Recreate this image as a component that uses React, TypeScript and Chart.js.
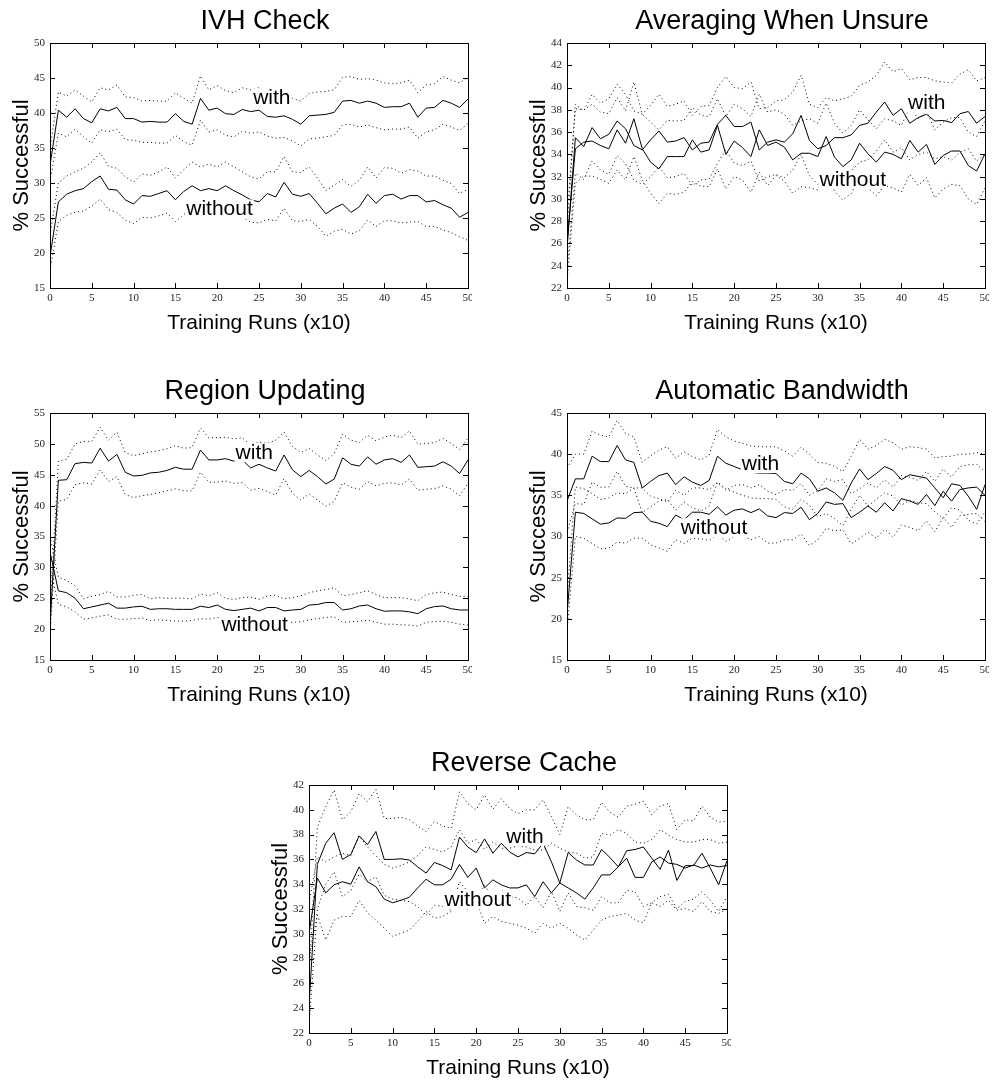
import React, { useEffect, useRef } from "react";
import { Chart, registerables } from "chart.js";

Chart.register(...registerables);
Chart.defaults.font.family = "'Liberation Sans', Arial, sans-serif";

// x categories: training runs (x10)
const RUNS: number[] = [
  0, 1, 2, 3, 4, 5, 6, 7, 8, 9, 10, 11, 12, 13, 14, 15, 16, 17, 18, 19, 20, 21, 22, 23, 24, 25,
  26, 27, 28, 29, 30, 31, 32, 33, 34, 35, 36, 37, 38, 39, 40, 41, 42, 43, 44, 45, 46, 47, 48, 49, 50,
];

const X_TITLE = "Training Runs (x10)";
const Y_TITLE = "% Successful";

// ---------- IVH Check ----------
const ivhWith = [32.5, 40.4, 39.4, 40.6, 39.2, 38.6, 40.6, 40.3, 40.8, 39.2, 39.2, 38.7, 38.8, 38.7, 38.7, 39.9, 38.8, 38.4, 42.1, 40.4, 40.7, 39.9, 39.8, 40.5, 40.2, 40.4, 39.5, 39.4, 39.6, 39.1, 38.4, 39.6, 39.7, 39.8, 40.1, 41.7, 41.8, 41.4, 41.7, 41.4, 40.8, 40.9, 40.9, 41.4, 39.4, 40.7, 40.8, 41.8, 41.4, 40.8, 42.0];
const ivhWithUp = [34.8, 43.0, 42.4, 43.3, 42.4, 41.6, 43.6, 43.3, 44.0, 42.3, 42.2, 41.7, 41.8, 41.7, 41.7, 42.9, 42.1, 41.4, 45.3, 43.3, 43.9, 43.2, 42.9, 43.6, 43.3, 43.6, 43.0, 42.5, 42.3, 42.1, 41.7, 42.8, 43.0, 43.1, 43.3, 45.1, 45.2, 44.8, 44.9, 44.7, 44.3, 44.2, 44.3, 44.7, 42.9, 44.0, 44.2, 45.2, 44.7, 44.3, 45.1];
const ivhWithLo = [30.2, 37.1, 36.6, 37.7, 36.6, 35.7, 37.6, 37.3, 37.7, 36.2, 36.1, 35.8, 35.8, 35.7, 35.7, 36.8, 35.9, 35.4, 39.0, 37.3, 37.6, 36.8, 36.6, 37.4, 37.1, 37.3, 36.7, 36.4, 36.5, 36.0, 35.3, 36.3, 36.4, 36.6, 36.8, 38.3, 38.4, 38.0, 38.3, 37.9, 37.6, 37.7, 37.7, 38.0, 36.4, 37.3, 37.6, 38.4, 38.0, 37.5, 38.5];
const ivhWo = [19.5, 27.3, 28.4, 28.9, 29.2, 30.2, 31.0, 29.1, 29.0, 27.6, 27.0, 28.2, 28.1, 28.5, 28.9, 27.6, 28.8, 29.6, 28.9, 29.2, 28.9, 29.6, 28.9, 28.3, 27.6, 27.3, 28.5, 28.0, 30.1, 28.4, 28.1, 28.5, 27.1, 25.6, 26.4, 27.0, 25.8, 26.6, 28.4, 27.1, 28.2, 28.4, 27.7, 28.2, 28.2, 27.3, 27.5, 26.9, 26.4, 25.1, 25.8];
const ivhWoUp = [22.5, 30.0, 31.0, 31.6, 32.1, 33.0, 34.3, 32.4, 32.1, 30.9, 30.1, 31.3, 31.1, 31.6, 32.3, 30.7, 31.9, 33.0, 32.3, 32.7, 32.3, 33.0, 32.3, 31.6, 30.9, 30.6, 31.6, 31.6, 33.8, 31.6, 31.5, 32.3, 30.7, 28.9, 29.7, 30.5, 29.5, 30.4, 32.3, 30.7, 32.2, 32.1, 31.4, 31.9, 31.7, 31.0, 31.0, 30.4, 29.9, 28.5, 29.1];
const ivhWoLo = [17.5, 24.5, 25.4, 25.8, 26.0, 26.7, 27.7, 26.2, 25.8, 24.7, 24.2, 25.1, 25.0, 25.3, 25.7, 24.5, 25.5, 26.3, 25.7, 25.9, 25.7, 26.3, 25.7, 25.1, 24.4, 24.3, 24.8, 24.6, 26.4, 24.6, 24.5, 24.8, 23.8, 22.4, 23.1, 23.4, 22.7, 23.2, 24.7, 23.8, 24.6, 24.6, 24.3, 24.4, 24.5, 23.8, 23.8, 23.3, 22.9, 22.3, 21.8];

// ---------- Averaging When Unsure ----------
const avgWith = [25.5, 35.5, 34.7, 36.4, 35.4, 35.8, 37.0, 36.3, 34.8, 34.4, 35.3, 36.1, 35.1, 35.2, 35.5, 34.4, 35.0, 35.1, 36.7, 37.5, 36.5, 36.5, 36.9, 34.4, 35.1, 35.3, 35.1, 35.85, 37.5, 35.25, 34.5, 34.8, 35.5, 35.5, 35.75, 36.6, 36.8, 37.8, 38.7, 37.5, 38.1, 36.8, 37.3, 37.6, 37.0, 37.05, 36.85, 37.65, 37.85, 36.8, 37.4];
const avgWithUp = [27.0, 38.5, 37.9, 39.4, 38.6, 39.0, 40.3, 39.4, 37.9, 37.6, 38.4, 39.4, 38.3, 38.5, 38.8, 37.5, 38.3, 38.4, 40.0, 41.0, 40.0, 39.9, 40.5, 38.1, 38.2, 38.8, 38.9, 39.6, 41.1, 38.5, 38.2, 39.1, 38.8, 39.0, 39.2, 40.2, 40.5, 41.1, 42.3, 41.4, 41.7, 40.7, 40.9, 40.9, 40.6, 40.5, 40.4, 41.2, 41.6, 40.6, 40.9];
const avgWithLo = [23.5, 32.3, 31.75, 33.4, 32.6, 32.2, 33.9, 33.2, 31.7, 31.3, 32.0, 32.9, 31.9, 32.0, 32.3, 31.2, 31.7, 31.8, 33.2, 34.4, 33.2, 33.0, 33.4, 31.6, 32.0, 32.2, 31.9, 32.6, 34.0, 32.1, 31.3, 31.7, 32.3, 32.1, 32.5, 33.3, 33.5, 34.3, 35.3, 34.2, 34.6, 33.5, 34.0, 34.2, 33.6, 33.8, 33.5, 34.2, 34.5, 33.4, 34.0];
const avgWo = [26.0, 34.5, 35.1, 35.2, 34.8, 34.5, 36.2, 35.0, 37.2, 34.5, 33.3, 32.7, 33.8, 33.8, 33.8, 35.3, 34.2, 34.4, 36.6, 34.0, 35.2, 34.6, 33.8, 36.2, 34.8, 35.1, 34.65, 33.5, 34.1, 34.1, 33.8, 35.6, 33.75, 32.9, 33.5, 35.0, 34.05, 33.3, 34.2, 34.0, 33.6, 35.25, 34.2, 34.9, 33.1, 33.9, 34.3, 34.3, 33.0, 32.5, 34.05];
const avgWoUp = [28.5, 38.1, 38.0, 38.5, 37.8, 37.65, 39.1, 37.9, 40.5, 37.6, 36.9, 36.2, 37.05, 37.0, 37.05, 38.2, 37.5, 37.4, 39.0, 37.4, 38.5, 38.1, 37.4, 39.4, 37.8, 38.0, 37.6, 36.6, 37.0, 37.2, 36.8, 38.6, 36.8, 35.9, 36.6, 38.0, 37.1, 36.3, 37.2, 37.0, 36.6, 38.2, 37.2, 37.9, 36.2, 36.9, 37.3, 37.3, 36.0, 35.6, 37.0];
const avgWoLo = [22.5, 31.4, 32.05, 32.05, 31.75, 31.4, 32.6, 31.7, 33.8, 31.7, 30.5, 29.6, 30.5, 30.4, 30.6, 31.55, 31.15, 31.1, 32.7, 30.9, 32.0, 31.7, 30.6, 32.4, 31.2, 32.1, 31.6, 30.5, 31.1, 31.0, 30.8, 32.6, 30.7, 29.9, 30.5, 32.0, 31.0, 30.3, 31.2, 31.0, 30.6, 32.2, 31.2, 31.9, 30.1, 30.9, 31.3, 31.2, 30.0, 29.5, 31.0];

// ---------- Region Updating ----------
const regWith = [20.5, 44.1, 44.2, 46.8, 47.0, 46.9, 49.3, 47.2, 48.3, 45.4, 44.8, 44.9, 45.3, 45.4, 45.7, 46.2, 45.9, 45.9, 49.0, 47.4, 47.4, 47.6, 47.2, 47.4, 46.1, 46.7, 46.1, 45.6, 48.2, 45.8, 44.7, 45.7, 44.7, 43.5, 44.3, 47.75, 46.7, 46.4, 47.9, 46.7, 47.4, 47.6, 47.0, 48.2, 46.2, 46.3, 46.4, 47.1, 46.4, 45.2, 47.4];
const regWithUp = [22.5, 47.2, 47.5, 50.0, 50.4, 50.4, 52.7, 50.6, 51.9, 48.6, 48.1, 48.4, 48.7, 48.9, 49.2, 49.7, 49.3, 49.4, 52.6, 51.0, 51.0, 51.1, 50.8, 51.0, 49.8, 50.3, 50.06, 50.6, 51.9, 49.6, 48.6, 49.25, 48.2, 47.3, 48.45, 51.6, 50.6, 50.2, 51.4, 50.5, 51.1, 51.4, 51.0, 52.1, 49.95, 50.06, 50.2, 50.9, 50.06, 49.1, 50.9];
const regWithLo = [19.0, 40.7, 41.0, 43.4, 43.7, 43.5, 45.8, 43.9, 44.7, 41.8, 41.3, 41.6, 41.8, 42.1, 42.4, 42.7, 42.4, 42.4, 45.4, 43.8, 43.8, 44.0, 43.6, 43.7, 42.5, 42.8, 42.3, 41.7, 44.4, 42.0, 40.9, 41.9, 40.9, 39.9, 40.7, 43.7, 43.0, 42.65, 43.9, 43.2, 43.6, 43.7, 43.35, 44.3, 42.5, 42.65, 42.75, 43.2, 42.65, 41.6, 43.6];
const regWo = [32.5, 26.2, 25.9, 25.0, 23.3, 23.6, 23.9, 24.2, 23.4, 23.4, 23.6, 23.7, 23.2, 23.3, 23.3, 23.2, 23.2, 23.2, 23.7, 23.5, 23.9, 23.2, 23.0, 23.2, 23.4, 22.95, 23.5, 23.5, 22.95, 23.1, 23.2, 23.9, 24.0, 24.3, 24.3, 23.1, 23.3, 23.75, 23.9, 23.3, 22.9, 22.95, 22.95, 22.8, 22.5, 23.3, 23.65, 23.75, 23.3, 23.1, 23.1];
const regWoUp = [35.0, 28.4, 27.9, 27.0, 24.9, 25.3, 25.6, 26.1, 25.2, 25.2, 25.5, 25.6, 24.9, 25.1, 25.0, 25.0, 25.0, 24.9, 25.7, 25.4, 25.9, 25.0, 24.8, 25.1, 25.2, 24.8, 25.4, 25.5, 24.9, 25.1, 25.4, 25.9, 26.2, 26.4, 26.7, 25.4, 25.6, 25.9, 26.2, 25.6, 25.1, 25.1, 25.1, 24.9, 24.6, 25.6, 25.9, 26.0, 25.6, 25.3, 25.3];
const regWoLo = [30.0, 24.0, 23.6, 22.8, 21.6, 21.8, 22.1, 22.3, 21.6, 21.6, 21.7, 21.8, 21.4, 21.5, 21.4, 21.3, 21.3, 21.4, 21.7, 21.6, 21.9, 21.3, 21.2, 21.3, 21.5, 20.8, 21.1, 21.2, 21.0, 21.1, 21.2, 21.5, 21.7, 21.9, 22.0, 21.1, 21.2, 21.3, 21.45, 21.1, 20.8, 20.8, 20.7, 20.65, 20.5, 21.1, 21.2, 21.3, 21.1, 20.8, 20.65];

// ---------- Automatic Bandwidth ----------
const bwWith = [34.3, 37.0, 37.0, 39.75, 39.1, 39.1, 41.05, 39.3, 39.0, 35.9, 36.7, 37.4, 37.7, 36.3, 37.25, 36.6, 36.2, 36.8, 39.75, 38.9, 38.5, 38.1, 37.8, 37.7, 37.7, 37.65, 36.7, 36.4, 37.7, 37.0, 35.5, 35.9, 35.3, 34.4, 36.5, 38.2, 36.9, 37.65, 38.5, 38.05, 36.9, 37.5, 37.3, 37.1, 35.9, 34.7, 36.4, 36.2, 34.9, 33.3, 36.3];
const bwWithUp = [38.3, 40.0, 40.0, 42.8, 42.3, 42.1, 44.1, 42.5, 42.1, 39.0, 39.8, 40.5, 40.9, 39.5, 40.3, 39.7, 39.3, 39.9, 43.0, 42.1, 41.6, 41.3, 41.0, 40.9, 40.9, 40.9, 40.4, 39.75, 40.85, 40.0, 39.0, 38.9, 38.5, 37.9, 39.75, 41.8, 40.6, 41.05, 41.8, 41.4, 40.6, 40.9, 40.8, 40.6, 39.55, 39.7, 39.75, 40.0, 40.0, 40.2, 40.0];
const bwWithLo = [30.5, 34.0, 33.9, 36.6, 36.0, 36.0, 37.9, 36.1, 35.9, 32.9, 33.6, 34.3, 34.5, 33.2, 34.2, 33.5, 33.1, 33.7, 36.6, 35.8, 35.4, 35.0, 34.7, 34.6, 34.6, 34.5, 33.6, 33.3, 34.5, 33.8, 32.4, 32.8, 32.2, 31.3, 33.3, 35.0, 33.7, 34.5, 35.3, 34.9, 33.8, 34.4, 34.1, 34.0, 33.0, 32.2, 33.5, 33.2, 32.0, 31.5, 33.0];
const bwWo = [20.5, 32.95, 32.8, 32.15, 31.5, 31.65, 32.25, 32.2, 32.9, 32.95, 31.85, 31.6, 31.2, 32.6, 32.05, 32.95, 32.95, 32.7, 33.6, 32.6, 33.2, 33.35, 32.9, 33.35, 32.5, 32.3, 32.9, 32.8, 33.55, 32.05, 32.8, 34.2, 33.9, 34.0, 32.3, 32.95, 33.7, 32.95, 34.1, 33.1, 34.6, 34.3, 33.9, 35.1, 33.75, 35.5, 34.3, 35.7, 35.9, 36.0, 35.0];
const bwWoUp = [22.5, 36.0, 35.8, 35.2, 34.5, 34.7, 35.3, 35.2, 35.9, 35.9, 34.9, 34.6, 34.2, 35.6, 35.0, 35.9, 35.9, 35.7, 36.6, 35.6, 36.2, 36.3, 35.9, 36.3, 35.5, 35.1, 35.7, 35.6, 36.4, 35.0, 35.6, 37.0, 36.7, 36.9, 35.2, 35.8, 36.5, 35.9, 36.9, 36.0, 37.4, 37.2, 36.8, 37.9, 36.7, 38.2, 37.2, 38.5, 38.7, 38.8, 37.8];
const bwWoLo = [18.5, 30.0, 29.8, 29.15, 28.5, 28.6, 29.3, 29.2, 29.8, 29.8, 29.0, 28.6, 28.2, 29.6, 29.15, 29.8, 29.7, 29.55, 30.25, 29.4, 30.0, 30.1, 29.6, 30.0, 29.2, 29.2, 29.6, 29.6, 30.3, 28.9, 29.6, 31.0, 30.7, 30.8, 29.1, 29.8, 30.5, 29.8, 30.9, 29.9, 31.4, 31.1, 30.7, 31.9, 30.6, 32.3, 31.1, 32.5, 32.7, 32.8, 31.8];

// ---------- Reverse Cache ----------
const rcWith = [24.1, 35.6, 37.3, 38.15, 36.0, 36.4, 37.9, 37.2, 38.25, 36.0, 36.0, 36.05, 35.95, 35.4, 34.9, 35.75, 35.5, 35.15, 37.8, 37.0, 36.55, 37.65, 36.5, 37.3, 36.6, 36.2, 36.55, 36.45, 37.3, 35.8, 34.1, 36.55, 35.95, 35.55, 35.55, 36.8, 36.15, 35.4, 36.7, 36.8, 37.0, 36.1, 35.2, 36.75, 34.3, 35.5, 35.5, 36.5, 35.3, 33.95, 35.9];
const rcWithUp = [26.5, 38.6, 40.25, 41.6, 39.2, 39.85, 41.3, 40.65, 41.65, 39.3, 39.3, 39.4, 39.2, 38.7, 38.25, 39.05, 38.7, 38.5, 41.45, 40.5, 40.0, 41.2, 40.05, 40.9, 40.1, 39.7, 40.0, 40.0, 40.8, 39.45, 38.0, 40.25, 39.6, 39.2, 39.2, 40.6, 39.8, 39.4, 40.3, 40.45, 40.7, 39.6, 40.3, 40.5, 38.4, 39.2, 39.1, 40.3, 39.4, 39.0, 39.1];
const rcWithLo = [22.5, 32.0, 34.0, 35.0, 33.0, 33.5, 34.8, 34.2, 34.6, 33.1, 32.8, 32.7, 32.6, 32.2, 31.5, 32.3, 32.2, 31.9, 34.2, 33.4, 33.0, 33.9, 32.9, 33.6, 33.0, 32.9, 32.3, 33.0, 32.1, 33.4, 31.8, 33.3, 32.2, 32.1, 31.9, 33.0, 32.5, 32.5, 33.5, 33.4, 32.2, 32.5, 33.0, 33.2, 32.0, 32.6, 32.8, 33.4, 32.7, 31.8, 33.0];
const rcWo = [30.0, 34.5, 33.3, 33.95, 34.2, 34.0, 35.4, 34.2, 33.8, 32.8, 32.5, 32.7, 32.95, 33.7, 34.4, 33.95, 33.95, 34.4, 35.6, 34.55, 35.3, 33.7, 34.35, 33.95, 33.7, 33.7, 33.95, 33.0, 34.2, 33.3, 34.1, 33.7, 33.3, 32.8, 33.7, 34.75, 34.75, 35.4, 36.1, 34.55, 34.55, 35.8, 36.2, 35.7, 35.6, 35.3, 35.55, 35.3, 35.55, 35.4, 35.5];
const rcWoUp = [32.5, 36.2, 35.8, 36.2, 36.5, 36.3, 37.9, 37.0, 36.3, 35.6, 35.3, 35.5, 35.8, 36.3, 37.0, 36.8, 36.6, 37.0, 38.4, 37.3, 37.6, 36.8, 37.4, 36.9, 36.9, 37.1, 37.0, 36.75, 36.75, 37.3, 36.9, 36.6, 36.5, 36.1, 36.2, 38.1, 37.95, 38.4, 38.1, 37.4, 37.3, 37.6, 38.4, 37.95, 37.6, 37.4, 37.4, 37.6, 37.6, 37.3, 37.4];
const rcWoLo = [28.0, 31.5, 29.5, 31.1, 31.4, 31.4, 32.7, 31.7, 31.1, 30.45, 29.8, 30.05, 30.3, 31.0, 31.8, 31.25, 31.4, 31.8, 33.0, 31.9, 32.7, 30.85, 31.4, 31.0, 30.85, 30.7, 30.45, 30.05, 30.85, 30.45, 30.85, 30.45, 29.9, 29.5, 30.3, 31.1, 31.4, 31.5, 31.65, 31.1, 30.9, 32.5, 32.2, 32.7, 31.9, 32.05, 31.8, 32.6, 31.8, 31.65, 32.0];

type Series = { withM: number[]; withUp: number[]; withLo: number[]; woM: number[]; woUp: number[]; woLo: number[] };
type Panel = {
  title: string;
  yMin: number;
  yMax: number;
  yStep: number;
  s: Series;
  withLabel: [number, number];
  woLabel: [number, number];
  areaLeft: number;
  areaTop: number;
  plotH: number;
};

const PANELS: Panel[] = [
  { title: "IVH Check", yMin: 15, yMax: 50, yStep: 5, s: { withM: ivhWith, withUp: ivhWithUp, withLo: ivhWithLo, woM: ivhWo, woUp: ivhWoUp, woLo: ivhWoLo }, withLabel: [24.3, 42.1], woLabel: [16.3, 26.2], areaLeft: 50, areaTop: 43, plotH: 245 },
  { title: "Averaging When Unsure", yMin: 22, yMax: 44, yStep: 2, s: { withM: avgWith, withUp: avgWithUp, withLo: avgWithLo, woM: avgWo, woUp: avgWoUp, woLo: avgWoLo }, withLabel: [40.8, 38.55], woLabel: [30.2, 31.7], areaLeft: 567, areaTop: 43, plotH: 245 },
  { title: "Region Updating", yMin: 15, yMax: 55, yStep: 5, s: { withM: regWith, withUp: regWithUp, withLo: regWithLo, woM: regWo, woUp: regWoUp, woLo: regWoLo }, withLabel: [22.2, 48.5], woLabel: [20.5, 20.7], areaLeft: 50, areaTop: 413, plotH: 247 },
  { title: "Automatic Bandwidth", yMin: 15, yMax: 45, yStep: 5, s: { withM: bwWith, withUp: bwWithUp, withLo: bwWithLo, woM: bwWo, woUp: bwWoUp, woLo: bwWoLo }, withLabel: [20.9, 38.8], woLabel: [13.6, 31.0], areaLeft: 567, areaTop: 413, plotH: 247 },
  { title: "Reverse Cache", yMin: 22, yMax: 42, yStep: 2, s: { withM: rcWith, withUp: rcWithUp, withLo: rcWithLo, woM: rcWo, woUp: rcWoUp, woLo: rcWoLo }, withLabel: [23.6, 37.8], woLabel: [16.2, 32.7], areaLeft: 309, areaTop: 785, plotH: 248 },
];

const Y_AXIS_W = 50;
const TITLE_H = 43;
const X_AXIS_H = 52;
const PLOT_W = 418;
const PAD_R = 12;
const CLIP_R = 4;

const framePlugin = {
  id: "frame",
  afterDatasetsDraw(chart: any, _args: any, opts: any) {
    const { ctx, chartArea: a, scales } = chart;
    const xs = scales.x;
    const ys = scales.y;
    ctx.save();
    ctx.setLineDash([]);
    ctx.strokeStyle = "#000";
    ctx.lineWidth = 1;
    ctx.strokeRect(a.left + 0.5, a.top + 0.5, a.right - a.left, a.bottom - a.top);
    const L = 5;
    ctx.beginPath();
    xs.ticks.forEach((t: any) => {
      const px = Math.round(xs.getPixelForValue(t.value)) + 0.5;
      ctx.moveTo(px, a.bottom);
      ctx.lineTo(px, a.bottom - L);
      ctx.moveTo(px, a.top);
      ctx.lineTo(px, a.top + L);
    });
    ys.ticks.forEach((t: any) => {
      const py = Math.round(ys.getPixelForValue(t.value)) + 0.5;
      ctx.moveTo(a.left, py);
      ctx.lineTo(a.left + L, py);
      ctx.moveTo(a.right, py);
      ctx.lineTo(a.right - L, py);
    });
    ctx.stroke();

    // chart title
    ctx.fillStyle = "#000";
    ctx.font = "27px 'Liberation Sans', Arial, sans-serif";
    ctx.textAlign = "center";
    ctx.textBaseline = "middle";
    ctx.fillText(opts.title, (a.left + a.right) / 2 + 6, a.top - 21);

    // in-plot labels
    ctx.font = "21px 'Liberation Sans', Arial, sans-serif";
    ctx.textAlign = "left";
    (opts.labels || []).forEach((lb: any) => {
      const px = xs.getPixelForValue(lb.x);
      const py = ys.getPixelForValue(lb.y);
      const w = ctx.measureText(lb.text).width;
      ctx.fillStyle = "#fff";
      ctx.fillRect(px - 1, py - 10, w + 2, 19);
      ctx.fillStyle = "#000";
      ctx.fillText(lb.text, px, py);
    });
    ctx.restore();
  },
};

function line(data: number[], dotted: boolean) {
  return {
    data: RUNS.map((r, i) => ({ x: r, y: data[i] })),
    borderColor: "#000",
    backgroundColor: "#000",
    borderWidth: 1,
    borderDash: dotted ? [1, 3] : [],
    pointRadius: 0,
    tension: 0,
    fill: false,
  };
}

function PanelChart({ p }: { p: Panel }) {
  const ref = useRef<HTMLCanvasElement | null>(null);
  const canvasW = Y_AXIS_W + PLOT_W + PAD_R;
  const canvasH = TITLE_H + p.plotH + X_AXIS_H;

  useEffect(() => {
    if (!ref.current) return;
    const chart = new Chart(ref.current, {
      type: "line",
      data: {
        datasets: [
          line(p.s.withUp, true),
          line(p.s.withLo, true),
          line(p.s.woUp, true),
          line(p.s.woLo, true),
          line(p.s.withM, false),
          line(p.s.woM, false),
        ],
      },
      options: {
        responsive: false,
        maintainAspectRatio: false,
        animation: false,
        devicePixelRatio: 1,
        layout: { padding: { left: 0, right: PAD_R, top: TITLE_H, bottom: 0 } },
        plugins: {
          legend: { display: false },
          tooltip: { enabled: false },
          title: { display: false },
          frame: {
            title: p.title,
            labels: [
              { text: "with", x: p.withLabel[0], y: p.withLabel[1] },
              { text: "without", x: p.woLabel[0], y: p.woLabel[1] },
            ],
          },
        } as any,
        scales: {
          x: {
            type: "linear",
            min: 0,
            max: 50,
            grid: { display: false, drawTicks: false },
            border: { display: false },
            ticks: {
              stepSize: 5,
              autoSkip: false,
              maxRotation: 0,
              padding: 4,
              color: "#222",
              font: { size: 11, family: "'Liberation Serif', 'Times New Roman', serif" },
            },
            title: {
              display: true,
              text: X_TITLE,
              color: "#000",
              font: { size: 21, family: "'Liberation Sans', Arial, sans-serif" },
              padding: { top: 0, bottom: 4.4 },
            },
            afterFit: (s: any) => {
              s.height = X_AXIS_H;
            },
          },
          y: {
            type: "linear",
            min: p.yMin,
            max: p.yMax,
            grid: { display: false, drawTicks: false },
            border: { display: false },
            ticks: {
              stepSize: p.yStep,
              autoSkip: false,
              padding: 5,
              color: "#222",
              font: { size: 11, family: "'Liberation Serif', 'Times New Roman', serif" },
            },
            title: {
              display: true,
              text: Y_TITLE,
              color: "#000",
              font: { size: 22, family: "'Liberation Sans', Arial, sans-serif" },
              padding: { top: 8.5, bottom: 0 },
            },
            afterFit: (s: any) => {
              s.width = Y_AXIS_W;
            },
          },
        },
      } as any,
      plugins: [framePlugin],
    });
    return () => chart.destroy();
  }, [p]);

  return (
    <div
      style={{
        position: "absolute",
        left: p.areaLeft - Y_AXIS_W,
        top: p.areaTop - TITLE_H,
        width: Y_AXIS_W + PLOT_W + CLIP_R,
        height: canvasH,
        overflow: "hidden",
      }}
    >
      <canvas ref={ref} width={canvasW} height={canvasH} style={{ display: "block" }} />
    </div>
  );
}

export default function App() {
  return (
    <div style={{ position: "absolute", left: 0, top: 0, width: 994, height: 1084, background: "#fff" }}>
      {PANELS.map((p) => (
        <PanelChart key={p.title} p={p} />
      ))}
    </div>
  );
}
